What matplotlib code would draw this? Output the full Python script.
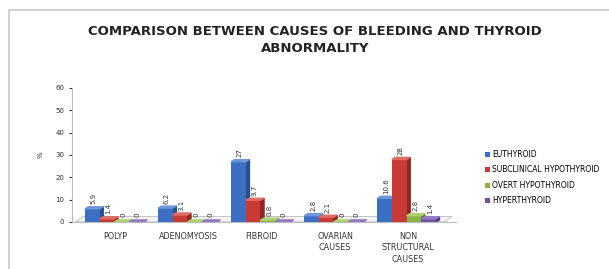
import numpy as np
import matplotlib
matplotlib.use("Agg")
from matplotlib import pyplot as plt
from matplotlib.patches import Rectangle, Polygon

categories = ["POLYP", "ADENOMYOSIS", "FIBROID", "OVARIAN\nCAUSES", "NON\nSTRUCTURAL\nCAUSES"]
series = ["EUTHYROID", "SUBCLINICAL HYPOTHYROID", "OVERT HYPOTHYROID", "HYPERTHYROID"]
euthyroid = [5.9, 6.2, 27, 2.8, 10.6]
subclinical = [1.4, 3.1, 9.7, 2.1, 28]
overt = [0, 0, 0.8, 0, 2.8]
hyper = [0, 0, 0, 0, 1.4]
values = [euthyroid, subclinical, overt, hyper]
colors = ["#3a6fc4", "#c93a34", "#8cb543", "#7150a4"]
sides = ["#27508f", "#8f2622", "#5f7e2c", "#4d3672"]
tops = ["#6d97da", "#de6c66", "#add26f", "#9479c2"]

fig = plt.figure(figsize=(6.09, 2.69), dpi=100)
fig.patches.append(Rectangle((0.015, -0.05), 1.1, 1.013, transform=fig.transFigure,
                             fill=False, ec="#c8c8c8", lw=1.2))
ax = fig.add_axes([0.118, 0.175, 0.63, 0.498])

x = np.arange(len(categories))
w = 0.2
dx = 0.05  # fake depth
dy = 0.9
for i, vals in enumerate(values):
    pos = x - 0.27 + i * w
    ax.bar(pos, vals, w, color=colors[i], label=series[i], zorder=3, align="center")
    for p, v in zip(pos, vals):
        # darker side face and lighter top face for a 3D look
        ax.add_patch(Polygon([(p + w / 2, 0), (p + w / 2 + dx, dy),
                              (p + w / 2 + dx, v + dy), (p + w / 2, v)],
                             closed=True, color=sides[i], zorder=2))
        ax.add_patch(Polygon([(p - w / 2, v), (p + w / 2, v),
                              (p + w / 2 + dx, v + dy), (p - w / 2 + dx, v + dy)],
                             closed=True, color=tops[i], zorder=3))
        ax.text(p + 0.02, v + 2, f"{v:g}", rotation=90, ha="center", va="bottom",
                fontsize=5, color="#333333", zorder=4)

# floor
ax.add_patch(Polygon([(-0.5, 0), (len(categories) - 0.45, 0),
                      (len(categories) - 0.35, 2.4), (-0.4, 2.4)],
                     closed=True, fc="#f4f4f4", ec="#bbbbbb", lw=0.6, zorder=1))

ax.set_xlim(-0.55, len(categories) - 0.3)
ax.set_ylim(0, 60)
ax.set_yticks(range(0, 61, 10))
ax.set_xticks(x + 0.05)
ax.set_xticklabels(categories, fontsize=5.8, color="#333333", linespacing=1.4)
ax.tick_params(axis="y", labelsize=5, length=2, colors="#333333")
ax.tick_params(axis="x", length=0, pad=7)
ax.set_ylabel("%", fontsize=5, rotation=90, color="#333333", labelpad=8)
for s in ["top", "right"]:
    ax.spines[s].set_visible(False)
ax.spines["left"].set_color("#bbbbbb")
ax.spines["bottom"].set_color("#bbbbbb")

fig.text(0.517, 0.851, "COMPARISON BETWEEN CAUSES OF BLEEDING AND THYROID\nABNORMALITY",
         ha="center", va="center", fontsize=9.5, fontweight="bold", color="#222222",
         linespacing=1.45)

fig.legend(loc="center left", bbox_to_anchor=(0.785, 0.34), frameon=False,
           fontsize=5.5, handlelength=0.6, handleheight=0.6, labelspacing=0.85,
           handletextpad=0.3)

fig.savefig("out.png", dpi=100)
